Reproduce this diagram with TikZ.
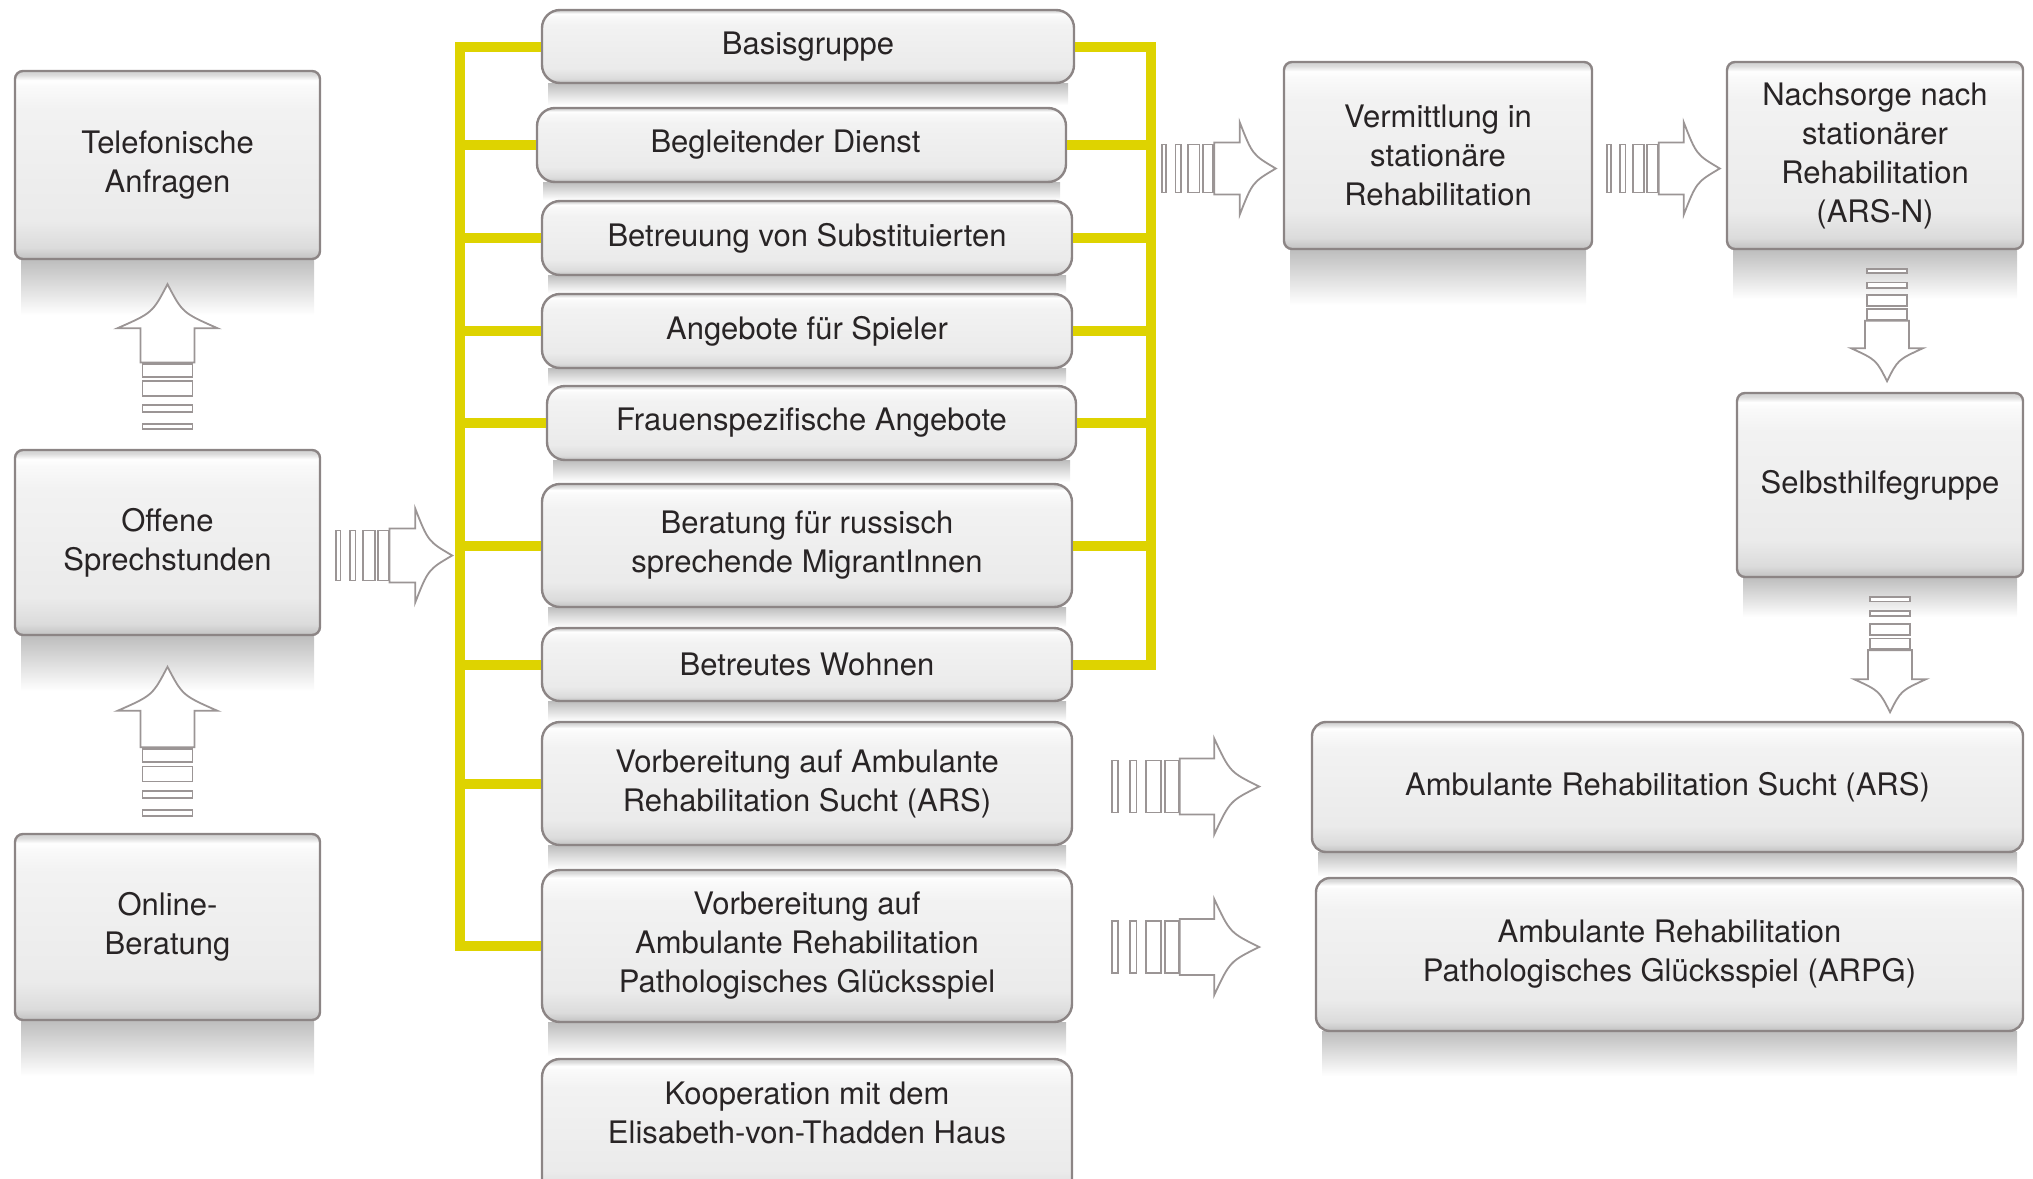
\documentclass[tikz,border=0pt]{standalone}
\usepackage{fontspec}
\setmainfont{TeX Gyre Heros}
\definecolor{ylw}{RGB}{222,211,0}
\definecolor{bord}{RGB}{140,133,133}
\definecolor{txt}{RGB}{40,36,37}
\definecolor{arr}{RGB}{155,149,149}
\pgfdeclareverticalshading{boxshade}{100bp}{color(0bp)=(black!24); color(25bp)=(black!24); color(28bp)=(black!14); color(35bp)=(black!8); color(65bp)=(black!5); color(71bp)=(black!2); color(72.5bp)=(white); color(74bp)=(black!14); color(75bp)=(black!18); color(100bp)=(black!18)}
\tikzset{
  every node/.style={text=txt, font=\fontsize{15.5}{19.5}\selectfont, align=center},
  bx/.style={draw=bord, line width=1.2pt, shade, shading=boxshade, rounded corners=#1, inner sep=0pt},
  bx/.default=4pt,
  yl/.style={draw=ylw, line width=5pt},
  shad/.style={top color=black!26, bottom color=white, draw=none},
  arrline/.style={draw=arr, line width=0.9pt, fill=white},
  pics/sarrow/.style n args={4}{code={
    \pgfmathsetmacro\saL{#1}
    \pgfmathsetmacro\saS{#2}
    \pgfmathsetmacro\saW{#3}
    \pgfmathsetmacro\saHB{#1-#4}
    \pgfmathsetmacro\saB{0.46*#1}
    \foreach \fa/\fb in {0/0.08,0.26/0.36,0.5/0.72,0.78/0.98}{
      \draw[arrline] ({\fa*\saB},{-\saS+2}) rectangle ({\fb*\saB},{\saS-2});
    }
    \draw[arrline] (\saB,-\saS) -- (\saHB,-\saS) -- (\saHB,-\saW)
      .. controls ({\saHB+0.35*#4},{-0.3*\saW}) .. (\saL,0)
      .. controls ({\saHB+0.35*#4},{0.3*\saW}) .. (\saHB,\saW)
      -- (\saHB,\saS) -- (\saB,\saS) -- cycle;
  }}
}
% #1 name, #2 extra style, #3 x1, #4 y1, #5 x2, #6 y2, #7 shadow height, #8 text
\newcommand\mkbox[8]{%
  \fill[shad] ({#3+6},#6) rectangle ({#5-6},{#6+#7});
  \node[bx, #2, minimum width={(#5-#3)*0.5pt}, minimum height={(#6-#4)*0.5pt}]
    (#1) at ({(#3+#5)/2},{(#4+#6)/2}) {#8};
}
\begin{document}
\begin{tikzpicture}[x=0.5pt,y=-0.5pt]
\useasboundingbox (0,0) rectangle (2033,1178);
\clip (0,0) rectangle (2033,1178);
% left column
\mkbox{tel}{}{15}{71}{320}{259}{56}{Telefonische\\Anfragen}
\mkbox{off}{}{15}{450}{320}{635}{56}{Offene\\Sprechstunden}
\mkbox{onl}{}{15}{834}{320}{1020}{56}{Online-\\Beratung}
% middle column
\mkbox{basis}{bx=9pt}{542}{10}{1074}{83}{22}{Basisgruppe}
\mkbox{begl}{bx=9pt}{537}{108}{1066}{182}{18}{Begleitender Dienst\hspace*{16pt}}
\mkbox{betr}{bx=9pt}{542}{201}{1072}{275}{18}{Betreuung von Substituierten}
\mkbox{ange}{bx=9pt}{542}{294}{1072}{368}{18}{Angebote für Spieler}
\mkbox{frau}{bx=9pt}{547}{386}{1076}{460}{22}{Frauenspezifische Angebote}
\mkbox{bera}{bx=9pt}{542}{484}{1072}{607}{20}{Beratung für russisch\\sprechende MigrantInnen}
\mkbox{wohn}{bx=9pt}{542}{628}{1072}{701}{20}{Betreutes Wohnen}
\mkbox{vars}{bx=9pt}{542}{722}{1072}{845}{24}{Vorbereitung auf Ambulante\\Rehabilitation Sucht (ARS)}
\mkbox{varpg}{bx=9pt}{542}{870}{1072}{1022}{34}{Vorbereitung auf\\Ambulante Rehabilitation\\Pathologisches Glücksspiel}
\mkbox{koop}{bx=9pt}{542}{1059}{1072}{1200}{0}{\begin{tabular}{@{}c@{}}Kooperation mit dem\\Elisabeth-von-Thadden Haus\\[13.5pt]\end{tabular}}
% right side
\mkbox{verm}{}{1284}{62}{1592}{249}{56}{Vermittlung in\\stationäre\\Rehabilitation}
\mkbox{nach}{}{1727}{62}{2023}{249}{50}{Nachsorge nach\\stationärer\\Rehabilitation\\(ARS-N)}
\mkbox{selb}{}{1737}{393}{2023}{577}{40}{Selbsthilfegruppe}
\mkbox{ars}{bx=7pt}{1312}{722}{2023}{852}{24}{Ambulante Rehabilitation Sucht (ARS)}
\mkbox{arpg}{bx=7pt}{1316}{878}{2023}{1031}{45}{Ambulante Rehabilitation\\Pathologisches Glücksspiel (ARPG)}
% yellow brackets
\coordinate (LB) at (460,0);
\coordinate (RB) at (1151,0);
\draw[yl] (basis.west) -- (basis.west -| LB) -- (varpg.west -| LB) -- (varpg.west);
\foreach \n in {begl,betr,ange,frau,bera,wohn,vars}
  \draw[yl] (\n.west -| LB) -- (\n.west);
\draw[yl] (basis.east) -- (basis.east -| RB) -- (wohn.east -| RB) -- (wohn.east);
\foreach \n in {begl,betr,ange,frau,bera}
  \draw[yl] (\n.east -| RB) -- (\n.east);
% arrows
\path (off.east) ++(15,13) pic {sarrow={116}{27}{47}{37}};
\path (tel.south) ++(0,169) pic[rotate=90] {sarrow={145}{27}{50}{44}};
\path (onl.north) ++(0,-17) pic[rotate=90] {sarrow={149}{27}{50}{44}};
\path (verm.west) ++(-121,13) pic {sarrow={114}{26}{46}{36}};
\path (nach.west) ++(-119,13) pic {sarrow={113}{26}{46}{36}};
\path (vars.east) ++(39,3) pic {sarrow={147}{28}{48}{45}};
\path (varpg.east) ++(39,1) pic {sarrow={147}{28}{48}{45}};
\path (nach.south) ++(12,19) pic[rotate=-90] {sarrow={112}{22}{36}{33}};
\path (selb.south) ++(10,19) pic[rotate=-90] {sarrow={115}{22}{36}{33}};
\end{tikzpicture}
\end{document}
